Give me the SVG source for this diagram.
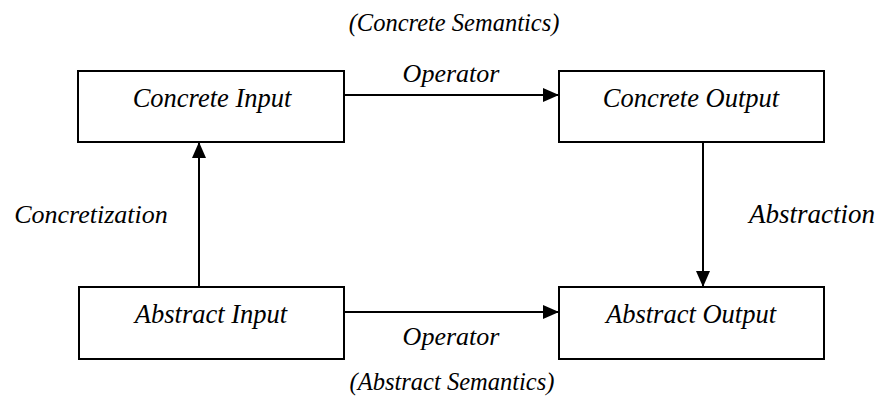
<svg xmlns="http://www.w3.org/2000/svg" width="876" height="397" viewBox="0 0 876 397">
  <style>
    text { font-family: "Liberation Serif", "Times New Roman", serif; font-style: italic; font-size: 26px; fill: #000; text-anchor: middle; }
    .note { font-size: 24.5px; }
    .name { font-size: 26.5px; }
    .box { fill: #fff; stroke: #000; stroke-width: 2; }
    .link { fill: none; stroke: #000; stroke-width: 2; }
  </style>
  <defs>
    <marker id="arrow" markerUnits="userSpaceOnUse" markerWidth="16" markerHeight="14" refX="16" refY="7" orient="auto">
      <path d="M0,0 L16,7 L0,14 Z" fill="#000"/>
    </marker>
  </defs>
  <rect width="876" height="397" fill="#fff"/>

  <text class="note" x="454" y="31">(Concrete Semantics)</text>
  <text class="note" x="452" y="390">(Abstract Semantics)</text>

  <g id="connectors">
    <line class="link" x1="344" y1="95" x2="559" y2="95" marker-end="url(#arrow)"/>
    <line class="link" x1="344" y1="312" x2="559" y2="312" marker-end="url(#arrow)"/>
    <line class="link" x1="199" y1="287" x2="199" y2="142" marker-end="url(#arrow)"/>
    <line class="link" x1="703" y1="142" x2="703" y2="287" marker-end="url(#arrow)"/>
    <text x="451" y="82">Operator</text>
    <text x="451" y="345">Operator</text>
    <text x="91" y="223">Concretization</text>
    <text x="812" y="223" style="font-size:27px">Abstraction</text>
  </g>

  <g id="concrete-input">
    <rect class="box" x="78" y="71" width="266" height="71"/>
    <text class="name" x="212" y="107">Concrete Input</text>
  </g>
  <g id="concrete-output">
    <rect class="box" x="559" y="71" width="265" height="71"/>
    <text class="name" x="691" y="107">Concrete Output</text>
  </g>
  <g id="abstract-input">
    <rect class="box" x="79" y="287" width="265" height="72"/>
    <text class="name" x="211" y="323">Abstract Input</text>
  </g>
  <g id="abstract-output">
    <rect class="box" x="559" y="287" width="265" height="72"/>
    <text class="name" x="691" y="323">Abstract Output</text>
  </g>
</svg>
